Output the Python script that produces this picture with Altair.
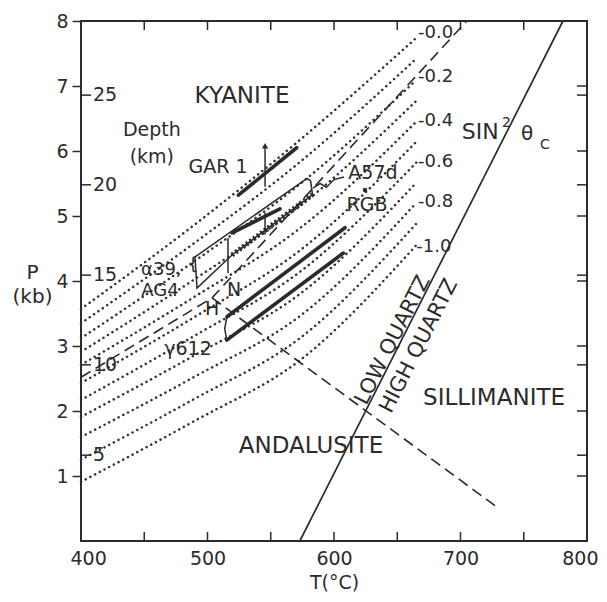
import altair as alt
import pandas as pd

INK = "#2b2b2b"
FONT = "DejaVu Sans"

# ---------------- data ----------------
# sin^2(theta_c) isopleths (dotted), P (kb) at four temperatures
ISO_NAMES = ["-0.0", "-0.1", "-0.2", "-0.3", "-0.4", "-0.5", "-0.6", "-0.7", "-0.8", "-0.9", "-1.0"]
ISO_T = [400, 490, 573, 665]
ISO_P400 = [3.57, 3.35, 3.12, 2.91, 2.71, 2.43, 2.17, 1.91, 1.60, 1.25, 0.91]
ISO_P490 = [4.87, 4.59, 4.31, 4.03, 3.76, 3.45, 3.16, 2.86, 2.53, 2.19, 1.85]
ISO_P573 = [6.17, 5.83, 5.49, 5.15, 4.81, 4.47, 4.14, 3.80, 3.46, 3.12, 2.78]
ISO_P665 = [7.74, 7.42, 7.09, 6.77, 6.45, 6.14, 5.82, 5.51, 5.20, 4.88, 4.55]

ISO_LABEL_TEXT = ["-0.0", "-0.2", "-0.4", "-0.6", "-0.8", "-1.0"]
ISO_LABEL_T = [666.5, 666.5, 666.5, 666.5, 666.5, 665.0]
ISO_LABEL_P = [7.82, 7.14, 6.46, 5.83, 5.22, 4.52]

# Al2SiO5 phase boundaries (dashed)
KYB_T = [400, 503.6, 705]
KYB_P = [2.52, 3.74, 8.0]
ANSIL_T = [503.6, 729]
ANSIL_P = [3.74, 0.52]

# low / high quartz (solid)
QTZ_T = [573, 781]
QTZ_P = [0.0, 8.0]

# thick solid segments (GAR1, inner A57d, two gamma612 limits)
SEG_T1 = [524.4, 519.4, 515.4, 515.2]
SEG_P1 = [5.32, 4.74, 3.45, 3.09]
SEG_T2 = [570.5, 557.3, 608.7, 607.4]
SEG_P2 = [6.05, 5.11, 4.82, 4.43]

# A57d / alpha39 outline box
BOX_T = [490.1, 578.7, 581.5, 583.0, 519.4, 491.7, 490.1]
BOX_P = [4.37, 5.58, 5.54, 5.33, 4.40, 3.89, 4.37]
SAW_T = [519.4, 583.0]
SAW_P = [4.40, 5.33]
VERT_T = [516.2, 545.5]
VERT_P1 = [4.12, 4.71]
VERT_P2 = [4.66, 5.05]

# gamma612 left cap
CAP_T = [515.4, 513.6, 515.2]
CAP_P = [3.45, 3.27, 3.09]

# A57d leader
LEAD_T = [583.4, 589.0, 594.0, 600.0, 608.0]
LEAD_P = [5.43, 5.50, 5.44, 5.56, 5.60]

# GAR1 arrow
ARROW_T = [545.5]
ARROW_P1 = [5.45]
ARROW_P2 = [6.08]

# RGB point
RGB_T = [624.5]
RGB_P = [5.40]

# axis furniture
X_LABELS = [400, 500, 600, 700, 800]
X_TICKS = [450, 500, 550, 600, 650, 700, 750]
P_LABELS = [1, 2, 3, 4, 5, 6, 7, 8]
P_RIGHT_TICKS = [1, 2, 3, 4, 5, 6, 7]
DEPTH_KM = [5, 10, 15, 20, 25]
DEPTH_P = [1.32, 2.71, 4.09, 5.48, 6.86]

# text labels
REGION_TEXT = ["KYANITE", "SILLIMANITE", "ANDALUSITE"]
REGION_T = [527.3, 726.5, 581.8]
REGION_P = [6.85, 2.20, 1.46]

LAB_TEXT = ["Depth", "(km)", "GAR 1", "A57d", "RGB", "α39,", "AG4", "N", "H", "γ612", "{"]
LAB_T = [456.0, 456.0, 508.3, 630.8, 626.1, 463.5, 462.5, 521.0, 503.6, 484.6, 488.6]
LAB_P = [6.32, 5.91, 5.75, 5.66, 5.17, 4.17, 3.84, 3.86, 3.57, 2.95, 4.24]
LAB_FS = [19, 19, 19, 19, 19, 18, 18, 19, 19, 19, 18]

SIN_TEXT = ["2", "θ", "C"]
SIN_T = [736.4, 752.6, 766.8]
SIN_P = [6.43, 6.26, 6.10]
SIN_FS = [14, 20, 14]
SIN_MAIN_T = [701.0]
SIN_MAIN_P = [6.29]

QZ_TEXT = ["LOW QUARTZ", "HIGH QUARTZ"]
QZ_T = [646.6, 667.2]
QZ_P = [3.09, 3.00]

# ---------------- chart ----------------
xs = alt.Scale(domain=[400, 800], nice=False, zero=False)
ys = alt.Scale(domain=[0, 8], nice=False, zero=False)

xaxis = alt.Axis(values=X_LABELS, ticks=False, domain=False, grid=False,
                 labelFontSize=19, labelFont=FONT, labelColor=INK, labelPadding=8,
                 labelFlush=True, labelFlushOffset=11, labelOverlap=False,
                 title="T(°C)", titleFont=FONT, titleFontSize=19, titleFontWeight="normal",
                 titleColor=INK, titleY=41, titleBaseline="middle")
yaxis = alt.Axis(values=P_LABELS, tickSize=9, tickWidth=1.5, tickColor=INK, domain=False,
                 grid=False, labelFontSize=19, labelFont=FONT, labelColor=INK, labelPadding=4,
                 labelFlush=False, labelOverlap=False,
                 title=["P", "(kb)"], titleAngle=0, titleX=-49, titleY=241,
                 titleAlign="center", titleBaseline="top", titleFont=FONT,
                 titleFontSize=20, titleFontWeight="normal", titleColor=INK,
                 titleLineHeight=24)

X = alt.X("T:Q", scale=xs, axis=xaxis)
Y = alt.Y("P:Q", scale=ys, axis=yaxis)

rows = []
for i, name in enumerate(ISO_NAMES):
    for j, pl in enumerate([ISO_P400, ISO_P490, ISO_P573, ISO_P665]):
        rows.append({"curve": name, "ord": j, "T": ISO_T[j], "P": pl[i]})
iso_df = pd.DataFrame(rows)

iso = alt.Chart(iso_df).mark_line(interpolate="monotone", strokeDash=[0.1, 5.2],
                                  strokeCap="round", strokeWidth=2.5, color="#333").encode(
    x=X, y=Y, detail="curve:N", order="ord:Q")


def polyline(ts, ps, name):
    return pd.DataFrame({"T": ts, "P": ps, "ord": list(range(len(ts))), "g": name})


dash_df = pd.concat([polyline(KYB_T, KYB_P, "ky"), polyline(ANSIL_T, ANSIL_P, "ansil")])
dashed = alt.Chart(dash_df).mark_line(strokeDash=[11, 6], strokeWidth=1.6, color=INK).encode(
    x=X, y=Y, detail="g:N", order="ord:Q")

qtz = alt.Chart(polyline(QTZ_T, QTZ_P, "q")).mark_line(strokeWidth=1.7, color=INK).encode(
    x=X, y=Y, order="ord:Q")

seg_df = pd.DataFrame({"T": SEG_T1, "P": SEG_P1, "T2": SEG_T2, "P2": SEG_P2})
segs = alt.Chart(seg_df).mark_rule(strokeWidth=3.6, color=INK, strokeCap="round").encode(
    x=X, y=Y, x2="T2:Q", y2="P2:Q")

thin_df = pd.concat([polyline(BOX_T, BOX_P, "box"), polyline(CAP_T, CAP_P, "cap"),
                     polyline(LEAD_T, LEAD_P, "lead")])
thin = alt.Chart(thin_df).mark_line(strokeWidth=1.5, color=INK, interpolate="linear").encode(
    x=X, y=Y, detail="g:N", order="ord:Q")

saw = alt.Chart(polyline(SAW_T, SAW_P, "saw")).mark_line(
    strokeWidth=5, strokeDash=[2, 2.5], color=INK).encode(x=X, y=Y, order="ord:Q")

vert_df = pd.DataFrame({"T": VERT_T, "P": VERT_P1, "P2": VERT_P2})
verts = alt.Chart(vert_df).mark_rule(strokeWidth=1.5, color=INK).encode(x=X, y=Y, y2="P2:Q")

arr_df = pd.DataFrame({"T": ARROW_T, "P": ARROW_P1, "P2": ARROW_P2})
arrow = alt.Chart(arr_df).mark_rule(strokeWidth=1.5, color=INK).encode(x=X, y=Y, y2="P2:Q")
head = alt.Chart(pd.DataFrame({"T": ARROW_T, "P": ARROW_P2})).mark_point(
    shape="triangle-up", size=40, filled=True, color=INK, opacity=1).encode(x=X, y=Y)

rgb = alt.Chart(pd.DataFrame({"T": RGB_T, "P": RGB_P})).mark_point(
    shape="circle", size=20, filled=True, color=INK, opacity=1).encode(x=X, y=Y)

# ticks (inward, clipped to the frame)
bt = pd.DataFrame({"T": X_TICKS + X_TICKS, "P": [0] * len(X_TICKS) + [8] * len(X_TICKS)})
xticks = alt.Chart(bt).mark_tick(orient="vertical", size=18, thickness=1.5, color=INK,
                                 clip=True, opacity=1).encode(x=X, y=Y)
rt = pd.DataFrame({"T": [800] * (len(P_RIGHT_TICKS) + len(DEPTH_P)) + [400] * len(DEPTH_P),
                   "P": P_RIGHT_TICKS + DEPTH_P + DEPTH_P})
yticks = alt.Chart(rt).mark_tick(orient="horizontal", size=20, thickness=1.5, color=INK,
                                 clip=True, opacity=1).encode(x=X, y=Y)

depth_lab = alt.Chart(pd.DataFrame({"T": [409.5] * len(DEPTH_KM), "P": DEPTH_P,
                                    "txt": [str(k) for k in DEPTH_KM]})).mark_text(
    align="left", baseline="middle", font=FONT, fontSize=19, color=INK).encode(
    x=X, y=Y, text="txt:N")

iso_lab = alt.Chart(pd.DataFrame({"T": ISO_LABEL_T, "P": ISO_LABEL_P,
                                  "txt": ISO_LABEL_TEXT})).mark_text(
    align="left", baseline="middle", font=FONT, fontSize=18, color=INK).encode(
    x=X, y=Y, text="txt:N")

region = alt.Chart(pd.DataFrame({"T": REGION_T, "P": REGION_P, "txt": REGION_TEXT})).mark_text(
    align="center", baseline="middle", font=FONT, fontSize=23, color=INK).encode(
    x=X, y=Y, text="txt:N")

labs = alt.Chart(pd.DataFrame({"T": LAB_T, "P": LAB_P, "txt": LAB_TEXT, "fs": LAB_FS})).mark_text(
    align="center", baseline="middle", font=FONT, color=INK).encode(
    x=X, y=Y, text="txt:N", size=alt.Size("fs:Q", scale=None, legend=None))

sin_main = alt.Chart(pd.DataFrame({"T": SIN_MAIN_T, "P": SIN_MAIN_P, "txt": ["SIN"]})).mark_text(
    align="left", baseline="middle", font=FONT, fontSize=22, color=INK).encode(
    x=X, y=Y, text="txt:N")

sin = alt.Chart(pd.DataFrame({"T": SIN_T, "P": SIN_P, "txt": SIN_TEXT, "fs": SIN_FS})).mark_text(
    align="center", baseline="middle", font=FONT, color=INK).encode(
    x=X, y=Y, text="txt:N", size=alt.Size("fs:Q", scale=None, legend=None))

qz = alt.Chart(pd.DataFrame({"T": QZ_T, "P": QZ_P, "txt": QZ_TEXT})).mark_text(
    align="center", baseline="middle", font=FONT, fontSize=21, color=INK, angle=297).encode(
    x=X, y=Y, text="txt:N")

chart = alt.layer(iso, dashed, qtz, segs, thin, saw, verts, arrow, head, rgb,
                  xticks, yticks, depth_lab, iso_lab, region, labs, sin_main, sin, qz).properties(
    width=506, height=520,
    autosize=alt.AutoSizeParams(type="none"),
    padding={"left": 73, "top": 13, "right": 12, "bottom": 53},
    background="white",
).configure_view(stroke=INK, strokeWidth=2)

chart.save("out.html", embed_options={"renderer": "svg", "actions": False})
